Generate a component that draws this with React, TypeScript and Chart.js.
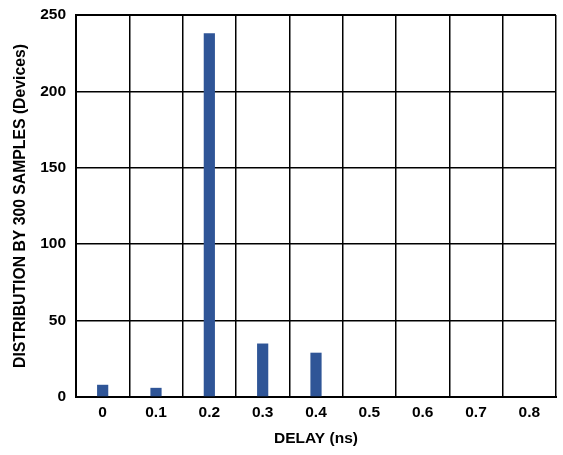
import React, { useEffect, useRef } from "react";
import { Chart, registerables } from "chart.js";

Chart.register(...registerables);

const categories = ["0", "0.1", "0.2", "0.3", "0.4", "0.5", "0.6", "0.7", "0.8"];
const counts = [8, 6, 238, 35, 29, 0, 0, 0, 0];
const yTicks = [0, 50, 100, 150, 200, 250];

const FONT = "'Liberation Sans', Arial, sans-serif";

export default function App() {
  const ref = useRef<HTMLCanvasElement>(null);

  useEffect(() => {
    document.body.style.margin = "0";
    const ctx = ref.current!;
    const chart = new Chart(ctx, {
      type: "bar",
      data: {
        labels: categories,
        datasets: [
          {
            data: counts,
            backgroundColor: "#2f5597",
            borderWidth: 0,
            barPercentage: 0.21,
            categoryPercentage: 1,
          },
        ],
      },
      options: {
        animation: false,
        responsive: false,
        maintainAspectRatio: false,
        layout: { padding: { top: 15, right: 7, left: 0, bottom: 7 } },
        plugins: { legend: { display: false }, tooltip: { enabled: false } },
        scales: {
          x: {
            offset: true,
            grid: {
              offset: true,
              color: "#000",
              lineWidth: (c: any) => (c.index === 0 || c.index === categories.length ? 2 : 1.5),
              drawTicks: false,
            },
            border: { color: "#000", width: 2 },
            ticks: {
              color: "#000",
              font: { family: FONT, size: 15.5, weight: "bold" },
              padding: 6,
              maxRotation: 0,
            },
            title: {
              display: true,
              text: "DELAY (ns)",
              color: "#000",
              font: { family: FONT, size: 15.5, weight: "bold" },
              padding: { top: 0, bottom: 0 },
            },
            afterFit: (s: any) => {
              s.height = 455 - 397 - 7;
              s.paddingLeft = 0;
              s.paddingRight = 0;
            },
          },
          y: {
            min: 0,
            max: 250,
            afterBuildTicks: (s: any) => {
              s.ticks = yTicks.map((v) => ({ value: v }));
            },
            grid: {
              color: "#000",
              lineWidth: (c: any) => (c.index === yTicks.length - 1 ? 2 : 1.5),
              drawTicks: false,
            },
            border: { color: "#000", width: 2 },
            ticks: {
              color: "#000",
              font: { family: FONT, size: 15.5, weight: "bold" },
              padding: 10,
            },
            title: {
              display: true,
              text: "DISTRIBUTION BY 300 SAMPLES (Devices)",
              color: "#000",
              font: { family: FONT, size: 15.75, weight: "bold" },
              padding: { top: 11, bottom: 0 },
            },
            afterFit: (s: any) => {
              s.width = 76;
              s.paddingTop = 0;
              s.paddingBottom = 0;
            },
          },
        },
      },
    });
    return () => chart.destroy();
  }, []);

  return (
    <div style={{ width: 563, height: 455 }}>
      <canvas ref={ref} width={563} height={455} style={{ display: "block" }} />
    </div>
  );
}
